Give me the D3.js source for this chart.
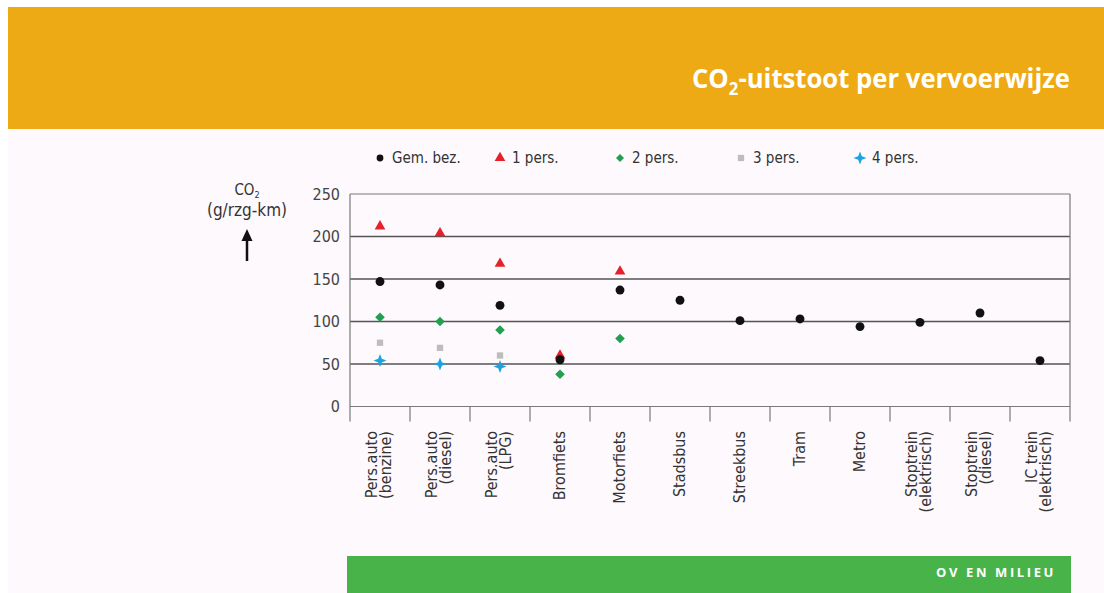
<!DOCTYPE html>
<html>
<head>
<meta charset="utf-8">
<script src="https://cdn.jsdelivr.net/npm/d3@7"></script>
<style>
  html, body { margin: 0; padding: 0; background: #ffffff; }
  svg { display: block; }
  .cond { font-family: "Liberation Sans Narrow", "DejaVu Sans Condensed", "Open Sans", sans-serif; font-stretch: condensed; }
</style>
</head>
<body>
<svg id="chart" width="1104" height="593"></svg>
<script>
// Transport modes (two-line labels split with "|")
const categories = [
  "Pers.auto|(benzine)", "Pers.auto|(diesel)", "Pers.auto|(LPG)", "Bromfiets", "Motorfiets",
  "Stadsbus", "Streekbus", "Tram", "Metro", "Stoptrein|(elektrisch)", "Stoptrein|(diesel)", "IC trein|(elektrisch)"
];
// CO2 emission in g per passenger-km (null = not applicable)
const avgOccupancy = [147, 143, 119, 55, 137, 125, 101, 103, 94, 99, 110, 54];
const onePerson    = [212, 204, 168, 60, 159, null, null, null, null, null, null, null];
const twoPersons   = [105, 100, 90, 38, 80, null, null, null, null, null, null, null];
const threePersons = [75, 69, 60, null, null, null, null, null, null, null, null, null];
const fourPersons  = [54, 50, 47, null, null, null, null, null, null, null, null, null];
const yTicks = [0, 50, 100, 150, 200, 250];
const seriesNames = ["Gem. bez.", "1 pers.", "2 pers.", "3 pers.", "4 pers."];

const svg = d3.select("#chart");

// page backgrounds
svg.append("rect").attr("x", 0).attr("y", 0).attr("width", 1104).attr("height", 593).attr("fill", "#ffffff");
svg.append("rect").attr("x", 8).attr("y", 129).attr("width", 1096).attr("height", 464).attr("fill", "#fdf9fd");

// header band
svg.append("rect").attr("x", 8).attr("y", 7).attr("width", 1096).attr("height", 122).attr("fill", "#eeaa15");
const title = svg.append("text")
  .attr("x", 1070).attr("y", 88)
  .attr("text-anchor", "end")
  .attr("fill", "#ffffff")
  .attr("font-family", "'Open Sans', 'DejaVu Sans', sans-serif")
  .attr("font-weight", "bold")
  .attr("font-size", 26)
  .attr("textLength", 378).attr("lengthAdjust", "spacingAndGlyphs");
title.append("tspan").text("CO");
title.append("tspan").attr("font-size", 17).attr("dy", 7).text("2");
title.append("tspan").attr("dy", -7).text("-uitstoot per vervoerwijze");

// footer band
svg.append("rect").attr("x", 347).attr("y", 556).attr("width", 724).attr("height", 37).attr("fill", "#48b348");
svg.append("text")
  .attr("x", 1056).attr("y", 577)
  .attr("text-anchor", "end")
  .attr("fill", "#ffffff")
  .attr("font-family", "'Open Sans', 'DejaVu Sans', sans-serif")
  .attr("font-weight", "bold")
  .attr("font-size", 13)
  .attr("letter-spacing", 2.6)
  .text("OV EN MILIEU");

// scales
const x = d3.scaleBand().domain(categories).range([350, 1070]);
const y = d3.scaleLinear().domain([0, 250]).range([406.5, 194]);

// gridlines
svg.append("g").selectAll("line")
  .data(yTicks.filter(t => t > 0 && t < 250))
  .join("line")
  .attr("x1", 350).attr("x2", 1070)
  .attr("y1", d => y(d)).attr("y2", d => y(d))
  .attr("stroke", "#555555").attr("stroke-width", 1.6);

// frame: top, left, right, bottom
const frame = svg.append("g").attr("stroke", "#7a7a7a").attr("stroke-width", 1.2).attr("fill", "none");
frame.append("line").attr("x1", 350).attr("x2", 1070).attr("y1", y(250)).attr("y2", y(250));
frame.append("line").attr("x1", 350).attr("x2", 1070).attr("y1", y(0)).attr("y2", y(0));
frame.append("line").attr("x1", 350).attr("x2", 350).attr("y1", y(250)).attr("y2", y(0) + 15);
frame.append("line").attr("x1", 1070).attr("x2", 1070).attr("y1", y(250)).attr("y2", y(0) + 15);
// category separators below the axis
frame.selectAll("line.sep")
  .data(categories.slice(1))
  .join("line").attr("class", "sep")
  .attr("x1", d => x(d)).attr("x2", d => x(d))
  .attr("y1", y(0)).attr("y2", y(0) + 15);

// y tick labels
svg.append("g").selectAll("text")
  .data(yTicks)
  .join("text")
  .attr("class", "cond")
  .attr("x", 340).attr("y", d => y(d) + 5.5)
  .attr("text-anchor", "end")
  .attr("font-size", 16)
  .attr("fill", "#444444")
  .text(d => d);

// y axis title with arrow
const yTitle = svg.append("g").attr("class", "cond").attr("fill", "#333333").attr("font-size", 15).attr("text-anchor", "middle");
const co2 = yTitle.append("text").attr("x", 247).attr("y", 195);
co2.append("tspan").text("CO");
co2.append("tspan").attr("font-size", 9).attr("dy", 3).text("2");
yTitle.append("text").attr("x", 247).attr("y", 216).attr("font-size", 17).text("(g/rzg-km)");
svg.append("line").attr("x1", 247).attr("x2", 247).attr("y1", 238).attr("y2", 261)
  .attr("stroke", "#111111").attr("stroke-width", 2.5);
svg.append("path").attr("d", "M247,229 L241.5,241 L252.5,241 Z").attr("fill", "#111111");

// x category labels, rotated
const xl = svg.append("g").attr("class", "cond").attr("font-size", 16).attr("fill", "#333333");
categories.forEach(c => {
  const lines = c.split("|");
  const cx = x(c) + x.bandwidth() / 2;
  lines.forEach((ln, i) => {
    const off = lines.length === 1 ? 5 : (i === 0 ? -3 : 11);
    xl.append("text")
      .attr("transform", `translate(${cx + off},431) rotate(-90)`)
      .attr("text-anchor", "end")
      .text(ln);
  });
});

// marker shapes
const colors = ["#111111", "#e3222a", "#22a050", "#bdbdbd", "#1aa3e0"];
const symbols = [
  d3.symbol().type(d3.symbolCircle).size(62),
  d3.symbol().type(d3.symbolTriangle).size(50),
  null,
  d3.symbol().type(d3.symbolSquare).size(40),
  null
];
// four-point sparkle used for the 4-person series
function sparkle(r) {
  const w = r * 0.28;
  return `M0,${-r} L${w},${-w} L${r},0 L${w},${w} L0,${r} L${-w},${w} L${-r},0 L${-w},${-w} Z`;
}
// square rotated by 45 degrees
function diamond(r) {
  return `M0,${-r} L${r},0 L0,${r} L${-r},0 Z`;
}
function shapePath(i) {
  if (i === 4) return sparkle(6.5);
  if (i === 2) return diamond(4.8);
  return symbols[i]();
}

const series = [avgOccupancy, onePerson, twoPersons, threePersons, fourPersons];
// draw from back to front so the average dot sits on top
[3, 4, 2, 1, 0].forEach(si => {
  svg.append("g").selectAll("path")
    .data(series[si].map((v, i) => ({ v, c: categories[i] })).filter(d => d.v !== null))
    .join("path")
    .attr("transform", d => `translate(${x(d.c) + x.bandwidth() / 2},${y(d.v)})`)
    .attr("d", shapePath(si))
    .attr("fill", colors[si]);
});

// legend
const legendX = [380, 500, 620, 741, 860];
const leg = svg.append("g");
seriesNames.forEach((n, i) => {
  leg.append("path")
    .attr("transform", `translate(${legendX[i]},${158})`)
    .attr("d", i === 0 ? d3.symbol().type(d3.symbolCircle).size(36)() : (i === 2 ? diamond(4) : shapePath(i)))
    .attr("fill", colors[i]);
  leg.append("text")
    .attr("class", "cond")
    .attr("x", legendX[i] + 12).attr("y", 163)
    .attr("font-size", 15)
    .attr("fill", "#333333")
    .text(n);
});
</script>
</body>
</html>
